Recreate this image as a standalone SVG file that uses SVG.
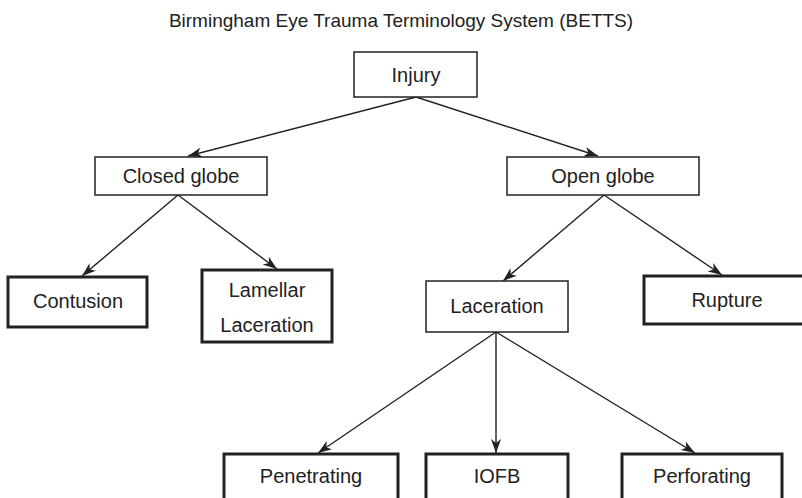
<svg xmlns="http://www.w3.org/2000/svg" width="802" height="498" viewBox="0 0 802 498">
  <style>
    text { font-family: "Liberation Sans", Arial, sans-serif; fill: #222; text-anchor: middle; }
    .title { font-size: 19px; }
    .label { font-size: 20px; }
    .box { fill: #fff; stroke: #222; stroke-width: 1.5; }
    .box.leaf { stroke-width: 3; }
    .edge { fill: none; stroke: #222; stroke-width: 1.4; marker-end: url(#arrow); }
  </style>
  <defs>
    <marker id="arrow" viewBox="0 0 14 10" refX="14" refY="5" markerWidth="14" markerHeight="10" markerUnits="userSpaceOnUse" orient="auto">
      <path d="M0,0 L14,5 L0,10 L4,5 z" fill="#222"/>
    </marker>
  </defs>
  <rect width="802" height="498" fill="#fff"/>

  <text class="title" x="401" y="27">Birmingham Eye Trauma Terminology System (BETTS)</text>

  <g id="connectors">
    <line class="edge" x1="416" y1="97" x2="188" y2="156"/>
    <line class="edge" x1="416" y1="97" x2="598" y2="156"/>
    <line class="edge" x1="178" y1="195" x2="82" y2="276"/>
    <line class="edge" x1="178" y1="195" x2="277" y2="269"/>
    <line class="edge" x1="604" y1="195" x2="503" y2="281"/>
    <line class="edge" x1="604" y1="195" x2="722" y2="275"/>
    <line class="edge" x1="496" y1="332" x2="318" y2="453"/>
    <line class="edge" x1="496" y1="332" x2="496" y2="453"/>
    <line class="edge" x1="496" y1="332" x2="695" y2="453"/>
  </g>

  <g id="injury">
    <rect class="box" x="354" y="52" width="123" height="45"/>
    <text class="label" x="416" y="82">Injury</text>
  </g>
  <g id="closed-globe">
    <rect class="box" x="95" y="157" width="172" height="38"/>
    <text class="label" x="181" y="183">Closed globe</text>
  </g>
  <g id="open-globe">
    <rect class="box" x="507" y="157" width="192" height="38"/>
    <text class="label" x="603" y="183">Open globe</text>
  </g>
  <g id="contusion">
    <rect class="box leaf" x="8" y="277" width="139" height="50"/>
    <text class="label" x="78" y="308">Contusion</text>
  </g>
  <g id="lamellar-laceration">
    <rect class="box leaf" x="202" y="270" width="130" height="72"/>
    <text class="label" x="267" y="297">Lamellar</text>
    <text class="label" x="267" y="332">Laceration</text>
  </g>
  <g id="laceration">
    <rect class="box" x="426" y="281" width="142" height="51"/>
    <text class="label" x="497" y="313">Laceration</text>
  </g>
  <g id="rupture">
    <rect class="box leaf" x="644" y="276" width="170" height="48"/>
    <text class="label" x="727" y="307">Rupture</text>
  </g>
  <g id="penetrating">
    <rect class="box leaf" x="224" y="454" width="174" height="60"/>
    <text class="label" x="311" y="483">Penetrating</text>
  </g>
  <g id="iofb">
    <rect class="box leaf" x="426" y="454" width="142" height="60"/>
    <text class="label" x="497" y="483">IOFB</text>
  </g>
  <g id="perforating">
    <rect class="box leaf" x="622" y="454" width="160" height="60"/>
    <text class="label" x="702" y="483">Perforating</text>
  </g>
</svg>
